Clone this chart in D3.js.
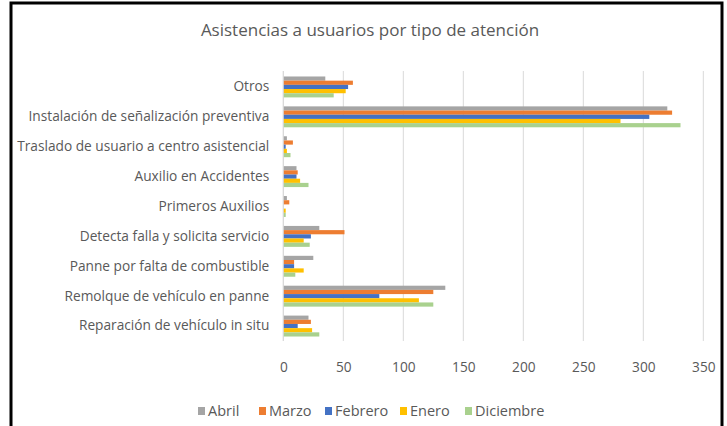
<!DOCTYPE html>
<html><head><meta charset="utf-8">
<script src="https://cdn.jsdelivr.net/npm/d3@7/dist/d3.min.js"></script>
<style>body{margin:0;background:#fff}svg{display:block}</style>
</head><body>
<svg id="c" width="727" height="426"></svg>
<script>
const categories = ["Otros","Instalación de señalización preventiva","Traslado de usuario a centro asistencial","Auxilio en Accidentes","Primeros Auxilios","Detecta falla y solicita servicio","Panne por falta de combustible","Remolque de vehículo en panne","Reparación de vehículo in situ"];
const seriesNames = ["Abril","Marzo","Febrero","Enero","Diciembre"];
const abril     = [35, 320, 3, 11, 3, 30, 25, 135, 21];
const marzo     = [58, 324, 8, 12, 5, 51, 9, 125, 23];
const febrero   = [54, 305, 2, 11, 0, 23, 9, 80, 12];
const enero     = [52, 281, 3, 14, 2, 17, 17, 113, 24];
const diciembre = [42, 331, 6, 21, 2, 22, 10, 125, 30];
const xTicks = [0,50,100,150,200,250,300,350];
const colors = ["#A5A5A5","#ED7D31","#4472C4","#FFC000","#A9D18E"];
const seriesValues = [abril, marzo, febrero, enero, diciembre];

const svg = d3.select("#c");
const font = "'Open Sans',sans-serif";

// frame
svg.append("path").attr("d","M11,426 V3 H722 V426").attr("fill","none").attr("stroke","#000").attr("stroke-width",3);

svg.append("text").attr("x",370).attr("y",36).attr("text-anchor","middle")
  .attr("font-family",font).attr("font-size",17).attr("fill","#595959")
  .text("Asistencias a usuarios por tipo de atención");

const x = d3.scaleLinear().domain([0,350]).range([283.3,703.3]);
const y = d3.scaleBand().domain(categories).range([72,341]).paddingInner(0.3).paddingOuter(0.15);
const inner = d3.scaleBand().domain(seriesNames).range([0,y.bandwidth()]);

// gridlines
svg.append("g").selectAll("line").data(xTicks).join("line")
  .attr("x1",d=>x(d)).attr("x2",d=>x(d)).attr("y1",71).attr("y2",341)
  .attr("stroke","#D9D9D9").attr("stroke-width",1);

// bars
const groups = svg.append("g").selectAll("g").data(categories).join("g")
  .attr("transform",c=>`translate(0,${y(c)})`);
groups.selectAll("rect").data((c,i)=>seriesNames.map((s,j)=>({s,v:seriesValues[j][i],j}))).join("rect")
  .attr("x",x(0)).attr("y",d=>inner(d.s)).attr("height",inner.bandwidth())
  .attr("width",d=>x(d.v)-x(0)).attr("fill",d=>colors[d.j]);

// y axis line
svg.append("line").attr("x1",x(0)).attr("x2",x(0)).attr("y1",71).attr("y2",341)
  .attr("stroke","#D9D9D9");

// y axis labels
const yAxis = d3.axisLeft(y).tickSize(0).tickPadding(14);
const ya = svg.append("g").attr("transform",`translate(${x(0)},0)`).call(yAxis);
ya.select(".domain").remove();
ya.selectAll("text").attr("font-family",font).attr("font-size",13.7).attr("fill","#595959");

// x axis labels
const xAxis = d3.axisBottom(x).tickValues(xTicks).tickSize(0).tickPadding(0);
const xa = svg.append("g").attr("transform",`translate(0,362)`).call(xAxis);
xa.select(".domain").remove();
xa.selectAll("text").attr("font-family",font).attr("font-size",13.7).attr("fill","#595959");

// legend
const legX = [198,259,325,400,465];
const leg = svg.append("g").selectAll("g").data(seriesNames).join("g")
  .attr("transform",(d,i)=>`translate(${legX[i]},411)`);
leg.append("rect").attr("x",0).attr("y",-4).attr("width",7).attr("height",8).attr("fill",(d,i)=>colors[i]);
leg.append("text").attr("x",10).attr("y",5).attr("font-family",font).attr("font-size",14.5).attr("fill","#595959").text(d=>d);
</script>
</body></html>
